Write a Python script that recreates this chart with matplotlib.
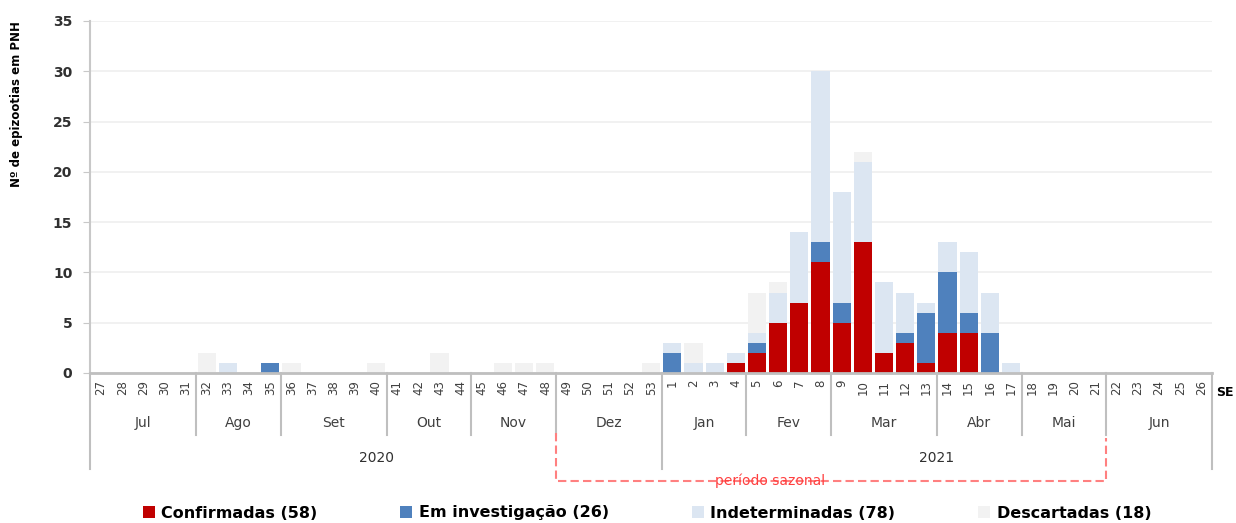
import numpy as np
import matplotlib.pyplot as plt
from matplotlib.patches import Patch
from matplotlib.transforms import blended_transform_factory

# --- data: weekly counts by SE (2020: SE 27-53, 2021: SE 1-26) ---
weeks_2020 = list(range(27, 54))
weeks_2021 = list(range(1, 27))

conf_2020 = [0, 0, 0, 0, 0, 0, 0, 0, 0, 0, 0, 0, 0, 0, 0, 0, 0, 0, 0, 0, 0, 0, 0, 0, 0, 0, 0]
inv_2020 = [0, 0, 0, 0, 0, 0, 0, 0, 1, 0, 0, 0, 0, 0, 0, 0, 0, 0, 0, 0, 0, 0, 0, 0, 0, 0, 0]
ind_2020 = [0, 0, 0, 0, 0, 0, 1, 0, 0, 0, 0, 0, 0, 0, 0, 0, 0, 0, 0, 0, 0, 0, 0, 0, 0, 0, 0]
desc_2020 = [0, 0, 0, 0, 0, 2, 0, 0, 0, 1, 0, 0, 0, 1, 0, 0, 2, 0, 0, 1, 1, 1, 0, 0, 0, 0, 1]

conf_2021 = [0, 0, 0, 1, 2, 5, 7, 11, 5, 13, 2, 3, 1, 4, 4, 0, 0, 0, 0, 0, 0, 0, 0, 0, 0, 0]
inv_2021 = [2, 0, 0, 0, 1, 0, 0, 2, 2, 0, 0, 1, 5, 6, 2, 4, 0, 0, 0, 0, 0, 0, 0, 0, 0, 0]
ind_2021 = [1, 1, 1, 1, 1, 3, 7, 17, 11, 8, 7, 4, 1, 3, 6, 4, 1, 0, 0, 0, 0, 0, 0, 0, 0, 0]
desc_2021 = [0, 2, 0, 0, 4, 1, 0, 0, 0, 1, 0, 0, 0, 0, 0, 0, 0, 0, 0, 0, 0, 0, 0, 0, 0, 0]

months = ['Jul', 'Ago', 'Set', 'Out', 'Nov', 'Dez', 'Jan', 'Fev', 'Mar', 'Abr', 'Mai', 'Jun']
weeks_per_month = [5, 4, 5, 4, 4, 5, 4, 4, 5, 4, 4, 5]
years = ['2020', '2021']

labels = ['Confirmadas (58)', 'Em investigação (26)', 'Indeterminadas (78)', 'Descartadas (18)']
colors = ['#C00000', '#4F81BD', '#DCE6F2', '#F2F2F2']

# --- build series ---
se_labels = weeks_2020 + weeks_2021
conf = np.array(conf_2020 + conf_2021)
inv = np.array(inv_2020 + inv_2021)
ind = np.array(ind_2020 + ind_2021)
desc = np.array(desc_2020 + desc_2021)
x = np.arange(len(se_labels))

W, H = 1236, 523
fig = plt.figure(figsize=(W / 100, H / 100), dpi=100)
ax = fig.add_axes([90.4 / W, 1 - 373 / H, (1212 - 90.4) / W, 352 / H])

bottom = np.zeros(len(x))
for vals, c in zip([conf, inv, ind, desc], colors):
    ax.bar(x, vals, bottom=bottom, width=0.86, color=c, edgecolor='none', zorder=3)
    bottom = bottom + vals

ax.set_xlim(-0.5, len(x) - 0.5)
ax.set_ylim(0, 35)
ax.set_yticks(range(0, 36, 5))
ax.grid(axis='y', color='#EFEFEF', linewidth=1.2, zorder=0)
for s in ['top', 'right', 'bottom']:
    ax.spines[s].set_visible(False)
ax.spines['left'].set_color('#C8C8C8')
ax.spines['left'].set_linewidth(1.5)
ax.axhline(0, color='#BFBFBF', linewidth=2, zorder=4, clip_on=False)
ax.tick_params(axis='y', length=5, color='#C8C8C8', labelsize=10, labelcolor='#303030', pad=8)
for t in ax.get_yticklabels():
    t.set_fontweight('bold')

ax.set_xticks(x)
ax.set_xticklabels([str(s) for s in se_labels], rotation=90, fontsize=8.5, color='#404040')
ax.tick_params(axis='x', length=0, pad=5)

fig.text(17 / W, 1 - 104 / H, 'Nº de epizootias em PNH', rotation=90, fontsize=8.5,
         fontweight='bold', ha='center', va='center')
fig.text(1216 / W, 1 - 392 / H, 'SE', fontsize=9, fontweight='bold', ha='left', va='center')

# --- hierarchical x axis: months and years ---
tr = blended_transform_factory(ax.transData, ax.transAxes)
y_px = lambda py: -(py - 373) / 352
line_kw = dict(color='#BFBFBF', linewidth=1.5, transform=tr, clip_on=False)

edges = np.concatenate([[0], np.cumsum(weeks_per_month)]) - 0.5
year_edges = [edges[0], edges[6], edges[-1]]
for e in edges:
    if e in year_edges:
        ax.plot([e, e], [0, y_px(469)], **line_kw)
    else:
        ax.plot([e, e], [0, y_px(435)], **line_kw)

for i, m in enumerate(months):
    ax.text((edges[i] + edges[i + 1]) / 2, y_px(423), m, transform=tr, ha='center',
            va='center', fontsize=10, color='#404040')
for i, yr in enumerate(years):
    ax.text((year_edges[i] + year_edges[i + 1]) / 2, y_px(458), yr, transform=tr,
            ha='center', va='center', fontsize=10, color='#303030')

# seasonal period bracket (SE 49/2020 to SE 21/2021)
p0, p1 = edges[5], edges[11]
ax.plot([p0, p0, p1, p1], [y_px(433), y_px(481), y_px(481), y_px(438)], color='#FF8080',
        linestyle=(0, (4, 2)), linewidth=1.5, transform=tr, clip_on=False)
ax.text(31.6, y_px(481), 'período sazonal', transform=tr, ha='center', va='center',
        fontsize=10, color='#FF4040')

handles = [Patch(facecolor=c, edgecolor='none') for c in colors]
fig.legend(handles, labels, loc='center', bbox_to_anchor=(647 / W, 1 - 513 / H), ncol=4,
           frameon=False, handlelength=0.75, handleheight=0.75,
           handletextpad=0.4, columnspacing=5.2,
           prop={'weight': 'bold', 'size': 11.5})

fig.savefig('out.png', dpi=100)
